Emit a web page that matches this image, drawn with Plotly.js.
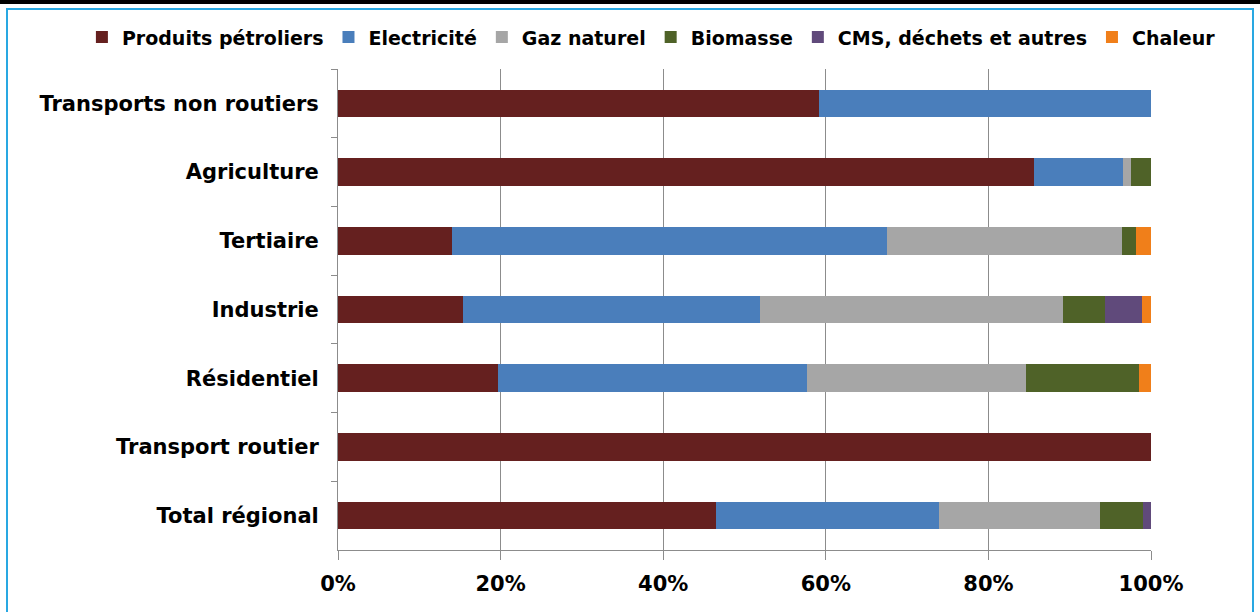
<!DOCTYPE html>
<html>
<head>
<meta charset="utf-8">
<script src="https://cdn.plot.ly/plotly-3.0.1.min.js"></script>
<style>
html,body{margin:0;padding:0;background:#fff;}
#wrap{position:relative;width:1260px;height:612px;overflow:hidden;}
#chart{position:absolute;left:0;top:0;width:1260px;height:612px;}
#topbar{position:absolute;left:0;top:0;width:1260px;height:4px;background:#000;}
#frame{position:absolute;left:6px;top:8px;width:1244px;height:640px;border:2px solid #29a8e2;pointer-events:none;}
</style>
</head>
<body>
<div id="wrap">
<div id="chart"></div>
<div id="topbar"></div>
<div id="frame"></div>
</div>
<script>
const categories = ["Transports non routiers","Agriculture","Tertiaire","Industrie","Résidentiel","Transport routier","Total régional"];
const produitsPetroliers = [59.2, 85.6, 14.0, 15.4, 19.7, 100, 46.5];
const electricite       = [40.8, 10.9, 53.5, 36.5, 38.0, 0, 27.4];
const gazNaturel        = [0, 1.0, 28.9, 37.3, 26.9, 0, 19.8];
const biomasse          = [0, 2.5, 1.8, 5.1, 13.9, 0, 5.3];
const cmsDechets        = [0, 0, 0, 4.6, 0, 0, 1.0];
const chaleur           = [0, 0, 1.8, 1.1, 1.5, 0, 0];
const seriesNames = ["Produits pétroliers","Electricité","Gaz naturel","Biomasse","CMS, déchets et autres","Chaleur"];
const seriesValues = [produitsPetroliers, electricite, gazNaturel, biomasse, cmsDechets, chaleur];
const seriesColors = ["#65201f","#4a7ebb","#a6a6a6","#4f6228","#604a7b","#f07f1a"];
const xTickVals = [0,20,40,60,80,100];
const xTickText = ["0%","20%","40%","60%","80%","100%"];

const FONT = "'DejaVu Sans', sans-serif";
const traces = seriesNames.map((n,i)=>({
  type:"bar", orientation:"h", name:n,
  y:categories, x:seriesValues[i],
  marker:{color:seriesColors[i], line:{width:0}},
  hoverinfo:"x+y+name"
}));

const layout = {
  width:1260, height:612,
  margin:{l:338, r:109, t:69, b:62, autoexpand:false},
  paper_bgcolor:"#fff", plot_bgcolor:"#fff",
  barmode:"stack", bargap:0.6,
  font:{family:FONT, size:21, color:"#000", weight:700},
  showlegend:true,
  legend:{orientation:"h", x:-0.315, xanchor:"left", y:1.066, yanchor:"middle",
          font:{family:FONT, size:19, color:"#000", weight:700}, itemwidth:30, tracegroupgap:0,
          traceorder:"normal", bgcolor:"rgba(0,0,0,0)"},
  xaxis:{range:[0,100], tickvals:xTickVals, ticktext:xTickText, showgrid:true, gridcolor:"#8c8c8c", gridwidth:1,
         zeroline:false, showline:true, linecolor:"#8c8c8c", linewidth:1, ticks:"outside", ticklen:9, tickcolor:"#8c8c8c",
         ticklabelstandoff:6, tickfont:{family:FONT, size:21, color:"#000", weight:700}, fixedrange:true},
  yaxis:{categoryorder:"array", categoryarray:categories, autorange:"reversed", showgrid:false, zeroline:false,
         showline:true, linecolor:"#8c8c8c", linewidth:1, ticks:"outside", ticklen:6, tickcolor:"#8c8c8c", tickson:"boundaries",
         ticklabelstandoff:14, tickfont:{family:FONT, size:21, color:"#000", weight:700}, fixedrange:true}
};
Plotly.newPlot("chart", traces, layout, {displayModeBar:false, staticPlot:true});
</script>
</body>
</html>
